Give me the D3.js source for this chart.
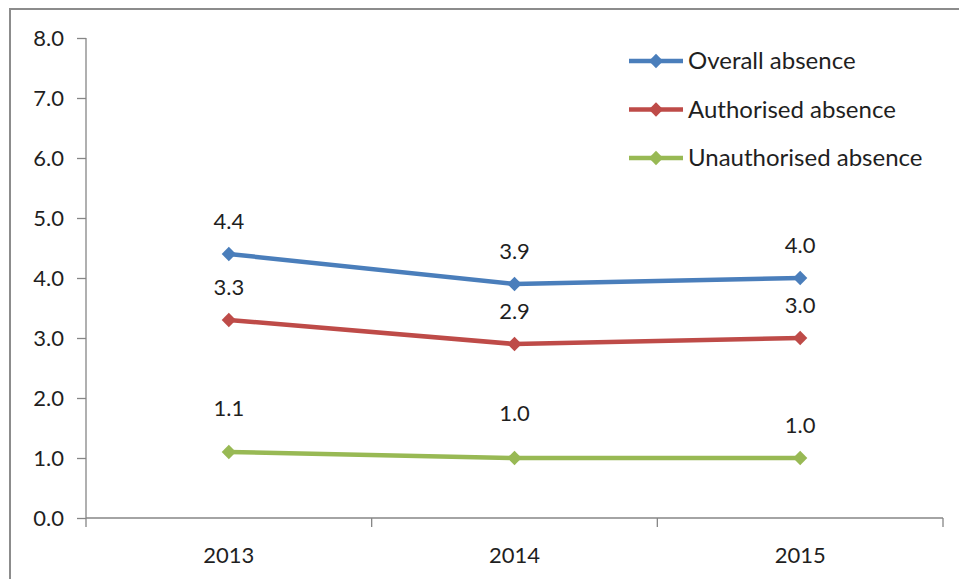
<!DOCTYPE html>
<html>
<head>
  <meta charset="utf-8">
  <style>
	body { margin: 0; background: white; }
	text { font-family: Lato, "Open Sans", sans-serif; fill: #1f1f1f; }
	.axis path, .axis line { stroke: #868686; stroke-width: 1.3px; }
  </style>
</head>
<body>
<div id="chart"></div>
<script src="https://d3js.org/d3.v7.min.js"></script>
<script>
	const years = ['2013', '2014', '2015'];
	const seriesNames = ['Overall absence', 'Authorised absence', 'Unauthorised absence'];
	const overall = [4.4, 3.9, 4.0];
	const authorised = [3.3, 2.9, 3.0];
	const unauthorised = [1.1, 1.0, 1.0];
	const yTicks = [0, 1, 2, 3, 4, 5, 6, 7, 8];
	const colors = ['#4a7ebb', '#be4b48', '#98b954'];

	const width = 959;
	const height = 579;
	const margin = {top: 38, right: 16, bottom: 61, left: 86};

	const svg = d3.select('#chart')
		.append('svg')
		.attr('width', width)
		.attr('height', height);

	// outer chart border (cut off at the right and bottom)
	svg.append('rect')
		.attr('x', 10).attr('y', 9)
		.attr('width', width + 20).attr('height', height + 20)
		.attr('fill', 'none')
		.attr('stroke', '#8c8c8c')
		.attr('stroke-width', 2);

	const x = d3.scaleBand()
		.domain(years)
		.range([margin.left, width - margin.right]);

	const y = d3.scaleLinear()
		.domain([0, 8])
		.range([height - margin.bottom, margin.top]);

	// y axis
	const yAxis = svg.append('g')
		.attr('class', 'axis')
		.attr('transform', `translate(${margin.left},0)`)
		.call(d3.axisLeft(y).tickValues(yTicks).tickFormat(d3.format('.1f')).tickSize(9).tickSizeOuter(0).tickPadding(13));
	yAxis.selectAll('text').style('font-size', '22px').attr('fill', '#1f1f1f').attr('dy', '0.36em');
	yAxis.select('.domain').attr('d', `M0,${y(8)}V${y(0) + 9}`);

	// x axis with ticks between categories
	const xAxis = svg.append('g')
		.attr('class', 'axis')
		.attr('transform', `translate(0,${y(0)})`);
	xAxis.append('line')
		.attr('x1', margin.left).attr('x2', width - margin.right)
		.attr('y1', 0).attr('y2', 0);
	const bounds = years.map(d => x(d)).concat([x(years[years.length - 1]) + x.bandwidth()]);
	xAxis.selectAll('.tk')
		.data(bounds.slice(1))
		.enter()
		.append('line')
		.attr('x1', d => d).attr('x2', d => d)
		.attr('y1', 0).attr('y2', 9);
	xAxis.selectAll('.lbl')
		.data(years)
		.enter()
		.append('text')
		.attr('x', d => x(d) + x.bandwidth() / 2)
		.attr('y', 45)
		.attr('text-anchor', 'middle')
		.style('font-size', '22px')
		.text(d => d);

	const series = [overall, authorised, unauthorised];
	const cx = d => x(d) + x.bandwidth() / 2;
	const line = d3.line()
		.x((d, i) => cx(years[i]))
		.y(d => y(d));
	const diamond = d3.symbol().type(d3.symbolDiamond2).size(130);

	// extra lift for a few labels that sit higher in the original
	const labelLift = {'2-0': 11, '2-1': 12};

	series.forEach((vals, s) => {
		svg.append('path')
			.datum(vals)
			.attr('d', line)
			.attr('fill', 'none')
			.attr('stroke', colors[s])
			.attr('stroke-width', 4.5)
			.attr('stroke-linejoin', 'round');

		svg.selectAll('.m' + s)
			.data(vals)
			.enter()
			.append('path')
			.attr('d', diamond)
			.attr('transform', (d, i) => `translate(${cx(years[i])},${y(d)})`)
			.attr('fill', colors[s]);

		svg.selectAll('.l' + s)
			.data(vals)
			.enter()
			.append('text')
			.attr('x', (d, i) => cx(years[i]))
			.attr('y', (d, i) => y(d) - 25 - (labelLift[s + '-' + i] || 0))
			.attr('text-anchor', 'middle')
			.style('font-size', '22px')
			.text(d => d.toFixed(1));
	});

	// legend
	const legend = svg.append('g');
	seriesNames.forEach((name, s) => {
		const ly = 61 + s * 48.5;
		legend.append('line')
			.attr('x1', 629).attr('x2', 683)
			.attr('y1', ly).attr('y2', ly)
			.attr('stroke', colors[s])
			.attr('stroke-width', 4.5);
		legend.append('path')
			.attr('d', diamond)
			.attr('transform', `translate(656,${ly})`)
			.attr('fill', colors[s]);
		legend.append('text')
			.attr('x', 688)
			.attr('y', ly)
			.attr('dy', '0.35em')
			.style('font-size', '24px')
			.text(name);
	});
</script>
</body>
</html>
